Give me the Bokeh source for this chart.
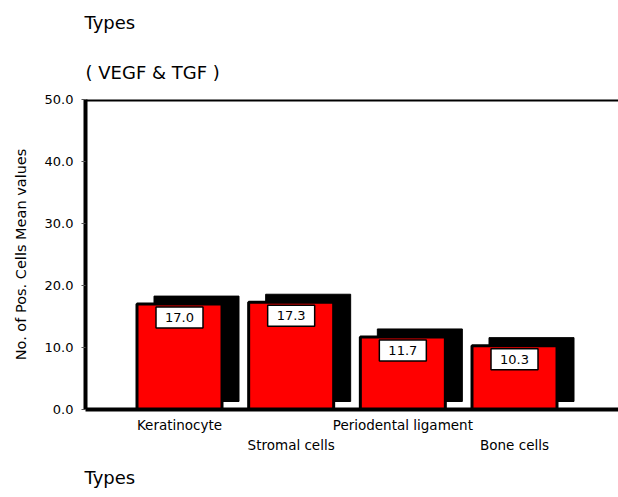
from bokeh.plotting import figure
from bokeh.models import (Range1d, FixedTicker, NumeralTickFormatter, Span, Title, LinearAxis,
                          ColumnDataSource)
from bokeh.core.properties import value
from bokeh.embed import file_html
from bokeh.resources import INLINE

# ---- data ----
categories = ["Keratinocyte", "Stromal cells", "Periodental ligament", "Bone cells"]
mean_values = [17.0, 17.3, 11.7, 10.3]
value_labels = ["17.0", "17.3", "11.7", "10.3"]
y_ticks = [0, 10, 20, 30, 40, 50]
title_top = "Types"
subtitle = "( VEGF & TGF )"
x_title = "Types"
y_title = "No. of Pos. Cells Mean values"

# ---- layout / style ----
FONT = "DejaVu Sans"
W, H = 618, 497
LEFT, TOP, BOTTOM = 85, 99, 88
Y_MAX = 50.0
PX_PER_CAT = 111.67
x_start = -94.0 / PX_PER_CAT
x_end = x_start + (W - LEFT) / PX_PER_CAT
y_px = (H - TOP - BOTTOM) / Y_MAX

p = figure(width=W, height=H, x_range=Range1d(x_start, x_end), y_range=Range1d(0, Y_MAX),
           title=None, output_backend="svg", toolbar_location=None,
           min_border_left=LEFT, min_border_right=0, min_border_top=TOP, min_border_bottom=BOTTOM)
p.outline_line_color = None
p.xgrid.visible = False
p.ygrid.visible = False
p.background_fill_color = "white"
p.border_fill_color = "white"

xs = list(range(len(categories)))
bar_w = 85 / PX_PER_CAT
dx = 17 / PX_PER_CAT
dy = 8 / y_px

src = ColumnDataSource(dict(
    x=xs,
    top=mean_values,
    sx=[x + dx for x in xs],
    stop=[v + dy for v in mean_values],
    by=[v - 13.5 / y_px for v in mean_values],
    lab=value_labels,
))

# shadows
p.vbar(x="sx", top="stop", bottom=dy, width=bar_w, fill_color="black", line_color="black",
       line_width=1, source=src)
# red bars
p.vbar(x="x", top="top", bottom=0, width=bar_w, fill_color="#ff0000", line_color="black",
       line_width=3, source=src)
# value boxes
p.rect(x="x", y="by", width=47, height=21, width_units="screen", height_units="screen",
       fill_color="white", line_color="black", line_width=1.5, source=src)
p.text(x="x", y="by", text="lab", text_align="center", text_baseline="middle",
       text_font=value(FONT), text_font_size="13px", text_color="black", source=src)

# top frame line
p.add_layout(Span(location=Y_MAX, dimension="width", line_color="black", line_width=4))

# y axis
p.yaxis.ticker = FixedTicker(ticks=y_ticks)
p.yaxis.formatter = NumeralTickFormatter(format="0.0")
p.yaxis.axis_line_width = 4
p.yaxis.axis_line_color = "black"
p.yaxis.major_tick_in = 0
p.yaxis.major_tick_out = 4
p.yaxis.major_tick_line_color = "#555555"
p.yaxis.minor_tick_line_color = None
p.yaxis.major_label_text_font = FONT
p.yaxis.major_label_text_font_size = "13px"
p.yaxis.major_label_text_color = "black"
p.yaxis.major_label_standoff = 8
p.yaxis.axis_label = y_title
p.yaxis.axis_label_text_font = FONT
p.yaxis.axis_label_text_font_size = "14.5px"
p.yaxis.axis_label_text_font_style = "normal"
p.yaxis.axis_label_text_color = "black"
p.yaxis.axis_label_standoff = 13

# x axis: first row of category labels (even positions)
row1 = [i for i in xs if i % 2 == 0]
row2 = [i for i in xs if i % 2 == 1]
xa = p.xaxis[0]
xa.ticker = FixedTicker(ticks=row1)
xa.major_label_overrides = {i: categories[i] for i in row1}
xa.axis_line_width = 4
xa.axis_line_color = "black"
xa.major_tick_in = 0
xa.major_tick_out = 0
xa.major_tick_line_color = None
xa.minor_tick_line_color = None
xa.major_label_standoff = 7
xa.major_label_text_font = FONT
xa.major_label_text_font_size = "13.5px"
xa.major_label_text_color = "black"

# second row of category labels (odd positions)
xb = LinearAxis(ticker=FixedTicker(ticks=row2),
                major_label_overrides={i: categories[i] for i in row2})
xb.axis_line_color = None
xb.major_tick_in = 0
xb.major_tick_out = 0
xb.major_tick_line_color = None
xb.minor_tick_line_color = None
xb.major_label_standoff = 1
xb.major_label_text_font = FONT
xb.major_label_text_font_size = "13.5px"
xb.major_label_text_color = "black"
p.add_layout(xb, "below")

# bottom title (left aligned)
t_bot = Title(text=x_title, align="left", offset=-1, standoff=18, text_font=FONT,
              text_font_size="18px", text_font_style="normal", text_color="black")
p.add_layout(t_bot, "below")

# top titles
t_sub = Title(text=subtitle, align="left", offset=0, standoff=31, vertical_align="middle",
              text_font=FONT, text_font_size="18px", text_font_style="normal", text_color="black")
p.add_layout(t_sub, "above")
t_top = Title(text=title_top, align="left", offset=-1, standoff=22, vertical_align="top",
              text_font=FONT, text_font_size="18px", text_font_style="normal", text_color="black")
p.add_layout(t_top, "above")

open("out.html", "w").write(file_html(p, INLINE))
